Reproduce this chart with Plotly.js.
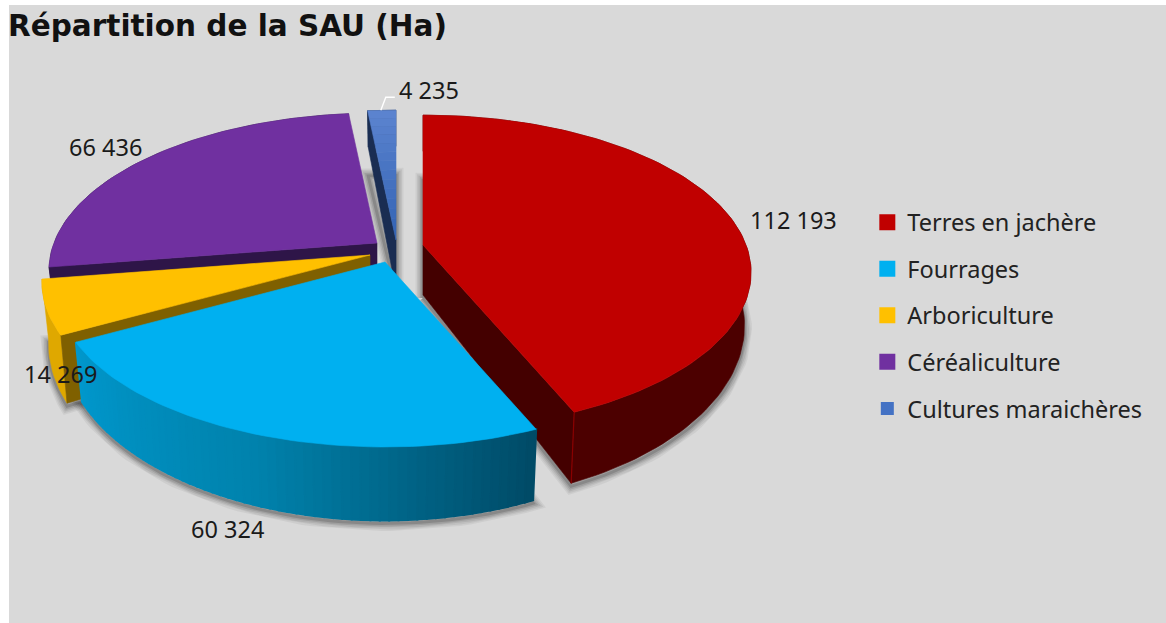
<!DOCTYPE html>
<html><head><meta charset="utf-8">
<script src="https://cdn.plot.ly/plotly-3.0.1.min.js"></script>
<style>html,body{margin:0;padding:0;background:#fff}#c{width:1166px;height:623px}</style>
</head><body><div id="c"></div>
<script>
// ---- data ----
const categories = ["Terres en jachère", "Fourrages", "Arboriculture", "Céréaliculture", "Cultures maraichères"];
const values = [112193, 60324, 14269, 66436, 4235];

// ---- styling / layout ----
const topColors  = ["#c00000", "#00b0f0", "#ffc000", "#7030a0", "#4472c4"];
const arcWall    = ["#4c0000", null, "#dfa800", "#2e1548", "#1c3055"];
const radialWall = ["#440000", null, "#7f6000", "#2e1548", "#1a2d52"];
const apexX = [423, 385, 370, 377, 396];
const apexY = [245, 262, 255, 243, 240];
const depths = [50, 50, 57, 50, 50];
const labelX = [793, 227, 60, 105, 429];
const labelY = [220, 529, 374, 147, 90];
const RX = 323, RY = 152.6, PERSP = 0.175, SHRINK = 0.02;
const FONT = '"Noto Sans", sans-serif';

const total = values.reduce((a, b) => a + b, 0);
const rad = d => d * Math.PI / 180;
const starts = [];
values.reduce((acc, v, i) => { starts[i] = acc; return acc + v / total * 360; }, 0);
const ends = values.map((v, i) => starts[i] + v / total * 360);

function proj(i, deg, r, z) {
  const X = r * Math.sin(rad(deg)), Y = -r * Math.cos(rad(deg));
  const k = 1 / (1 - PERSP * Y);
  return [apexX[i] + RX * X * k * (1 - SHRINK * z), apexY[i] + RY * Y * k + z * depths[i] * k * k];
}
function arc(i, a, b, r, z) {
  const n = Math.max(2, Math.ceil(Math.abs(b - a) / 1.5)), pts = [];
  for (let j = 0; j <= n; j++) pts.push(proj(i, a + (b - a) * j / n, r, z));
  return pts;
}
function poly(pts, color, w) {
  return {
    type: "scatter", mode: "lines", x: pts.map(p => p[0]).concat(pts[0][0]), y: pts.map(p => p[1]).concat(pts[0][1]),
    fill: "toself", fillcolor: color, line: {color: color, width: w || 0.6}, hoverinfo: "skip", showlegend: false
  };
}
function mix(c1, c2, t) {
  return "rgb(" + c1.map((c, i) => Math.round(c + (c2[i] - c) * t)).join(",") + ")";
}

const traces = [];

// soft shadows, all drawn first; pushed further down at the back of the disc
[[15, .05], [12, .06], [9, .08], [6, .10], [3, .14]].forEach(([w, a]) => {
  values.forEach((v, i) => {
    const n = Math.max(2, Math.ceil((ends[i] - starts[i]) / 1.5)), xs = [], ys = [];
    const push = (deg, r) => {
      const p = proj(i, deg, r, 1);
      xs.push(p[0]); ys.push(p[1] + 3 + 26 * Math.max(0, r * Math.cos(rad(deg))));
    };
    push(starts[i], 0);
    for (let j = 0; j <= n; j++) push(starts[i] + (ends[i] - starts[i]) * j / n, 1);
    push(starts[i], 0);
    traces.push({type: "scatter", mode: "lines", x: xs, y: ys,
      line: {color: "rgba(0,0,0," + a + ")", width: w}, hoverinfo: "skip", showlegend: false});
  });
});

function wall(i) {
  if (i === 1) {                       // graded outer wall of the blue slice
    const a = ends[i], b = starts[i], n = 60;
    const L = [0, 152, 205], M = [0, 130, 172], R = [0, 74, 102];
    for (let j = 0; j < n; j++) {
      const d0 = a + (b - a) * j / n, d1 = a + (b - a) * (j + 1) / n, t = (j + .5) / n;
      const col = t < .5 ? mix(L, M, t * 2) : mix(M, R, (t - .5) * 2);
      traces.push(poly([proj(i, d0, 1, 0), proj(i, d1, 1, 0), proj(i, d1, 1, 1), proj(i, d0, 1, 1)], col, 2));
    }
  } else {
    const top = arc(i, starts[i], ends[i], 1, 0), bot = arc(i, starts[i], ends[i], 1, 1).reverse();
    traces.push(poly(top.concat(bot), arcWall[i]));
  }
}
function radial(i, deg) {
  traces.push(poly([proj(i, deg, 0, 0), proj(i, deg, 1, 0), proj(i, deg, 1, 1), proj(i, deg, 0, 1)], radialWall[i]));
}
function face(i) {
  if (i === 4) {                       // graded top of the small blue slice
    const n = 14, O = [92, 132, 208], I = [52, 100, 180];
    for (let j = 0; j < n; j++) {
      const r0 = j / n, r1 = (j + 1) / n;
      traces.push(poly(arc(i, starts[i], ends[i], r0, 0).concat(arc(i, starts[i], ends[i], r1, 0).reverse()), mix(I, O, (j + .5) / n)));
    }
  } else {
    traces.push(poly([proj(i, 0, 0, 0)].concat(arc(i, starts[i], ends[i], 1, 0)), topColors[i]));
  }
}

// back-to-front
wall(4); radial(4, starts[4]); face(4);
wall(3); radial(3, starts[3]); face(3);
wall(2); radial(2, starts[2]); face(2);
radial(0, ends[0]); wall(0);
(function seam() {
  const p = proj(0, ends[0], 1, 0), q = proj(0, ends[0], 1, 1);
  traces.push({type: "scatter", mode: "lines", x: [p[0], q[0]], y: [p[1], q[1]], line: {color: "#8a0000", width: 1.2}, hoverinfo: "skip", showlegend: false});
})();
face(0);
wall(1); face(1);

// leader line of the small slice
const lp = proj(4, (starts[4] + ends[4]) / 2, 1, 0);
traces.push({type: "scatter", mode: "lines", x: [lp[0] - 1, lp[0] + 4, lp[0] + 13], y: [lp[1], lp[1] - 13, lp[1] - 13],
  line: {color: "#ffffff", width: 1.4}, hoverinfo: "skip", showlegend: false});

// legend entries
categories.forEach((c, i) => {
  traces.push({type: "scatter", mode: "markers", x: [null], y: [null], name: c, legendgroup: c, showlegend: true,
    marker: {symbol: "square", size: i === 4 ? 13 : 16, color: topColors[i]}, hoverinfo: "skip"});
});

const fmt = v => String(v).replace(/\B(?=(\d{3})+$)/g, " ");
const annotations = values.map((v, i) => ({
  x: labelX[i], y: labelY[i], xref: "x", yref: "y", text: fmt(v), showarrow: false,
  font: {family: FONT, size: 23.5, color: "#1a1a1a"}, xanchor: "center", yanchor: "middle"
}));

Plotly.newPlot("c", traces, {
  width: 1166, height: 623,
  margin: {l: 9, r: 0, t: 5, b: 0},
  paper_bgcolor: "#ffffff", plot_bgcolor: "#d9d9d9",
  title: {text: "<b>Répartition de la SAU (Ha)</b>", x: 8 / 1166, xanchor: "left", xref: "container", y: 0.958, yanchor: "middle", yref: "container",
    font: {family: '"DejaVu Sans", sans-serif', size: 29.5, color: "#111111"}},
  xaxis: {range: [9, 1166], visible: false, fixedrange: true},
  yaxis: {range: [623, 5], visible: false, fixedrange: true},
  showlegend: true,
  legend: {x: 865 / 1166, xanchor: "left", y: 1 - 197 / 623, yanchor: "top", bgcolor: "rgba(0,0,0,0)", tracegroupgap: 13,
    font: {family: FONT, size: 23.5, color: "#222222"}},
  annotations: annotations,
  hovermode: false
}, {displayModeBar: false, staticPlot: true});
</script></body></html>
